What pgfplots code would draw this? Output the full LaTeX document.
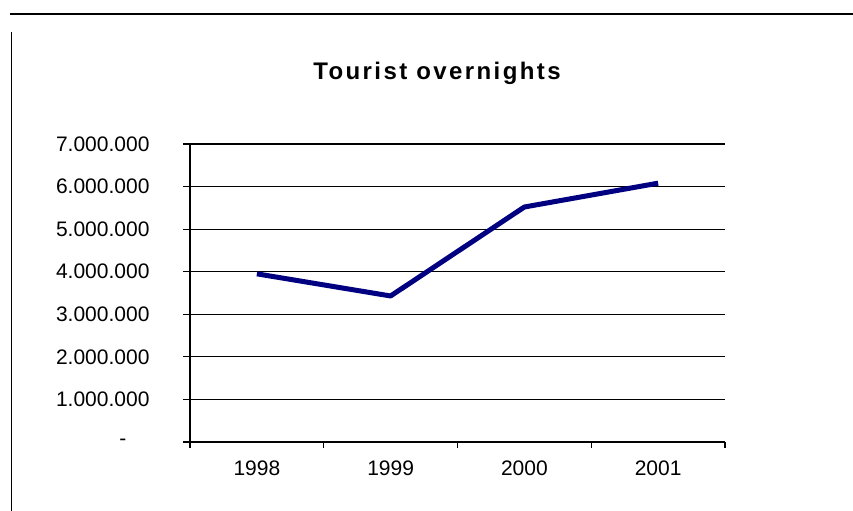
\documentclass[border=0pt]{standalone}
\usepackage{pgfplots}
\pgfplotsset{compat=1.18}
\usepackage{fontspec}
\setmainfont{Liberation Sans}
\newfontfamily\titlefont[LetterSpace=10]{Liberation Sans}
\definecolor{navyline}{RGB}{0,0,128}
\begin{document}
\begin{tikzpicture}
\useasboundingbox (0,0) rectangle (853bp,511bp);
\draw[line width=2.8bp] (10bp,497bp) -- (853bp,497bp);
\draw[line width=1.5bp] (11.5bp,479bp) -- (11.5bp,0);
\node[anchor=base,font=\titlefont\fontsize{24bp}{28bp}\selectfont\bfseries] at (437bp,431bp) {Tourist overnights};
\begin{axis}[at={(190bp,69bp)}, anchor=south west, scale only axis,
  width=535bp, height=298bp,
  xmin=-0.5, xmax=3.5, ymin=0, ymax=7000000,
  axis x line*=bottom, axis y line*=left,
  axis line style={line width=1.2bp,-},
  xtick={0,1,2,3}, xticklabels={1998,1999,2000,2001},
  major x tick style={draw=none},
  minor xtick={-0.5,0.5,1.5,2.5,3.5},
  ytick={0,1000000,2000000,3000000,4000000,5000000,6000000,7000000},
  yticklabels={\makebox[30bp][l]{-},1.000.000,2.000.000,3.000.000,4.000.000,5.000.000,6.000.000,7.000.000},
  scaled y ticks=false,
  tick align=outside, major tick length=7bp, minor tick length=6bp,
  ymajorgrids, grid style={black,line width=1.2bp},
  tick style={black,line width=1.2bp},
  ticklabel style={font=\fontsize{21bp}{25bp}\selectfont},
  yticklabel style={xshift=-30bp},
  xticklabel style={yshift=-8bp},
  clip=false,
]
\addplot[navyline, line width=5bp, line join=round] coordinates {
  (0,3950000) (1,3430000) (2,5520000) (3,6080000)
};
\end{axis}
\end{tikzpicture}
\end{document}
